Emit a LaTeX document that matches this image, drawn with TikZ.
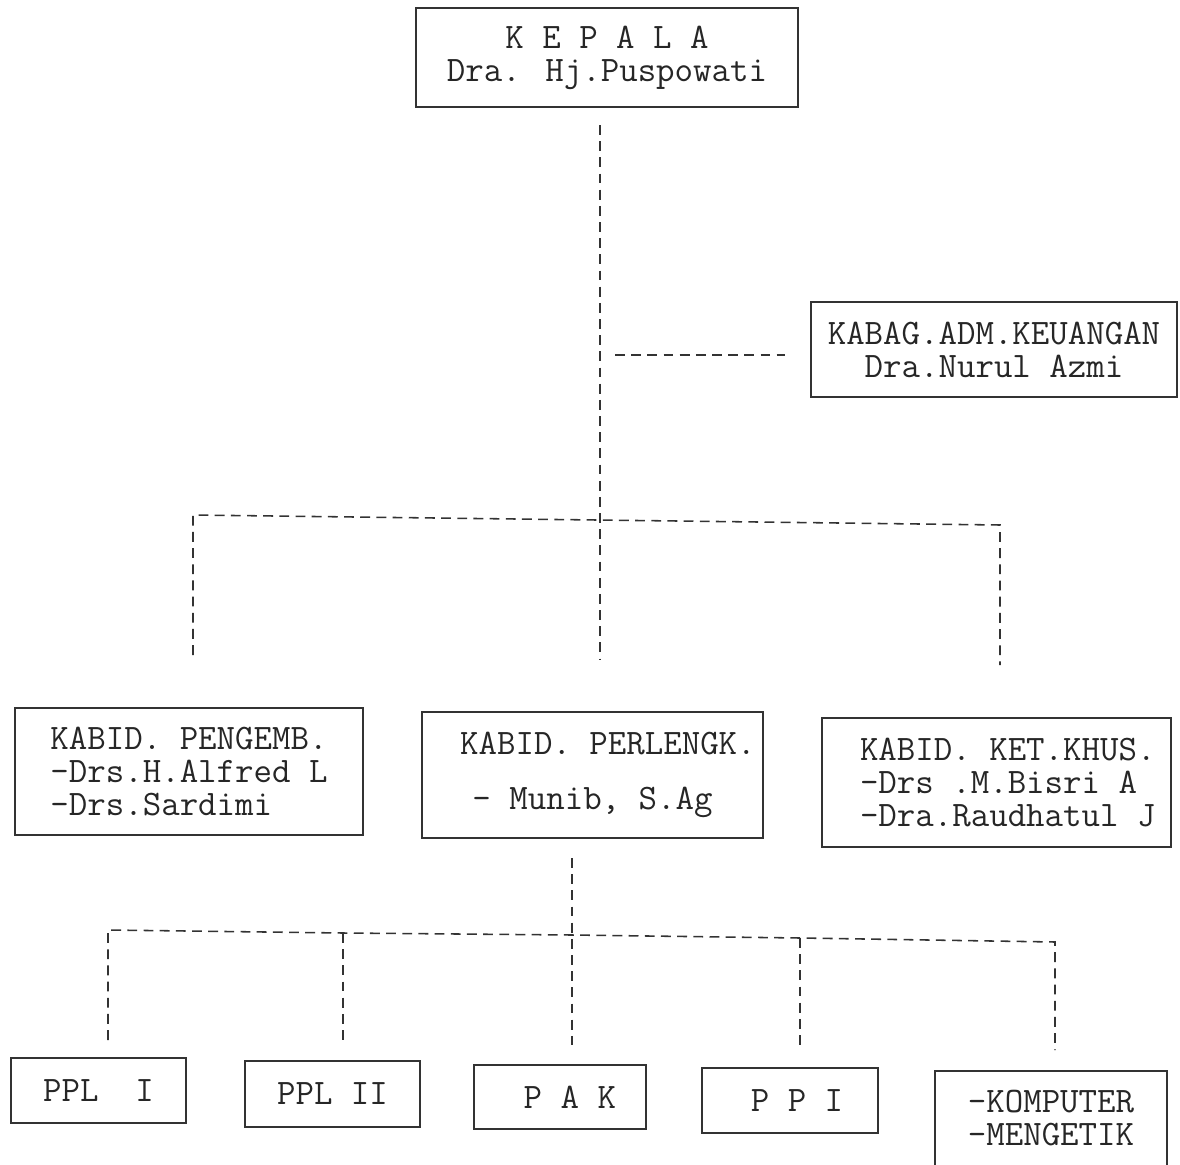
\documentclass[tikz,border=0pt]{standalone}
\usepackage{fontspec}
\tikzstyle{office}=[rectangle, draw=black!80, line width=1.1pt, text=black!85, inner sep=0pt, align=center, font=\ttfamily\fontsize{25.5}{23.5}\selectfont]
\tikzstyle{link}=[draw=black!80, line width=1.1pt, dash pattern=on 7pt off 4.5pt]

\begin{document}
\begin{tikzpicture}[x=0.025cm, y=-0.025cm]
    \useasboundingbox (0,0) rectangle (1180,1165);
    \clip (0,0) rectangle (1180,1165);

    % Head and staff:
    \node[office, minimum width=9.55cm, minimum height=2.475cm] (kepala) at (607,57.5) {K E P A L A\\Dra. Hj.Puspowati};
    \node[office, minimum width=9.15cm, minimum height=2.375cm] (kabag) at (994,349.5) {KABAG.ADM.KEUANGAN\\Dra.Nurul Azmi};

    % Fields:
    \node[office, align=left, minimum width=8.7cm, minimum height=3.175cm] (pengemb) at (189,771.5) {KABID. PENGEMB.\\-Drs.H.Alfred L\\-Drs.Sardimi};
    \node[office, minimum width=8.525cm, minimum height=3.15cm] (perlengk) at (592.5,775) {\hspace*{22pt}KABID. PERLENGK.\\[16pt]- Munib, S.Ag};
    \node[office, align=left, minimum width=8.725cm, minimum height=3.225cm] (ketkhus) at (996.5,782.5) {\hspace*{16pt}KABID. KET.KHUS.\\\hspace*{16pt}-Drs .M.Bisri A\\\hspace*{16pt}-Dra.Raudhatul J};

    % Sections:
    \node[office, minimum width=4.375cm, minimum height=1.625cm] (ppl1) at (98.5,1090.5) {PPL\ \ I};
    \node[office, minimum width=4.375cm, minimum height=1.65cm] (ppl2) at (332.5,1094) {PPL II};
    \node[office, minimum width=4.3cm, minimum height=1.6cm] (pak) at (560,1097) {\hspace*{14pt}P A K};
    \node[office, minimum width=4.4cm, minimum height=1.625cm] (ppi) at (790,1100.5) {\hspace*{10pt}P P I};
    \node[office, align=left, text depth=11pt, minimum width=5.8cm, minimum height=2.725cm] (komputer) at (1051,1125.5) {-KOMPUTER\\-MENGETIK};

    % Free ends of the lines:
    \coordinate (k-out) at (600,125);
    \coordinate (k-end) at (600,660);
    \coordinate (s-out) at (615,355);
    \coordinate (s-in) at (785,355);
    \coordinate (f-left) at (193,515);
    \coordinate (f-right) at (1000,525);
    \coordinate (f-left-in) at (193,655);
    \coordinate (f-right-in) at (1000,665);
    \coordinate (p-out) at (572,858);
    \coordinate (p-mid) at (572,935);
    \coordinate (p-end) at (572,1045);
    \coordinate (b1) at (108,930);
    \coordinate (b2) at (343,933);
    \coordinate (b4) at (800,938);
    \coordinate (b5) at (1055,942);
    \coordinate (b1-in) at (108,1040);
    \coordinate (b2-in) at (343,1040);
    \coordinate (b4-in) at (800,1045);
    \coordinate (b5-in) at (1055,1050);

    % Lines:
    \draw[link] (k-out) -- (k-end);
    \draw[link] (s-out) -- (s-in);
    \draw[link] (f-left-in) -- (f-left) -- (f-right) -- (f-right-in);
    \draw[link] (p-out) -- (p-end);
    \draw[link] (b1-in) -- (b1) -- (b2) -- (p-mid) -- (b4) -- (b5) -- (b5-in);
    \draw[link] (b2) -- (b2-in);
    \draw[link] (b4) -- (b4-in);
\end{tikzpicture}
\end{document}
